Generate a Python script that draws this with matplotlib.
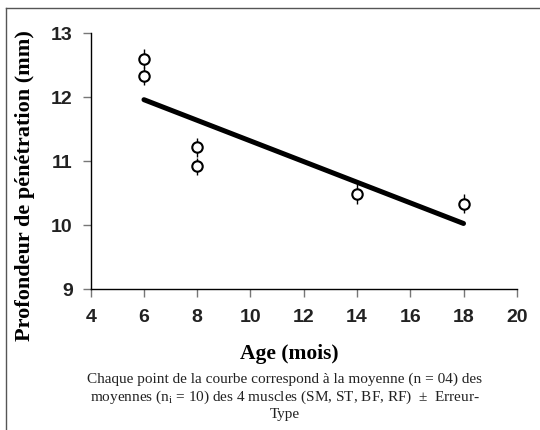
import numpy as np
import matplotlib.pyplot as plt
from matplotlib.lines import Line2D

plt.rcParams['mathtext.fontset'] = 'custom'
plt.rcParams['mathtext.rm'] = 'Liberation Serif'

# mean penetration depth by age, with standard error
age = [6, 6, 8, 8, 14, 18]
depth = [12.6, 12.33, 11.22, 10.92, 10.49, 10.34]
err = [0.15, 0.14, 0.15, 0.13, 0.15, 0.15]

xticks = [4, 6, 8, 10, 12, 14, 16, 18, 20]
yticks = [9, 10, 11, 12, 13]

fig = plt.figure(figsize=(5.4, 4.3), dpi=100)
ax = fig.add_axes([0.168, 0.327, 0.789, 0.596])

# linear trend over the measured range
slope, icpt = np.polyfit(age, depth, 1)
xs = np.array([min(age), max(age)])
ax.plot(xs, slope * xs + icpt, color='black', lw=3.6, solid_capstyle='round', zorder=2)

ax.errorbar(age, depth, yerr=err, fmt='o', ms=7.5, mfc='white', mec='black',
            mew=1.5, ecolor='black', elinewidth=1, capsize=0, zorder=3)

ax.set_xlim(4, 20)
ax.set_ylim(9, 13)
ax.set_xticks(xticks)
ax.set_yticks(yticks)
for s in ['top', 'right']:
    ax.spines[s].set_visible(False)
for s in ['left', 'bottom']:
    ax.spines[s].set_linewidth(1)
ax.tick_params(direction='out', length=6, width=1, color='#777777')
ax.tick_params(axis='x', pad=8)
ax.tick_params(axis='y', pad=7)
for lab in ax.get_xticklabels() + ax.get_yticklabels():
    lab.set_fontfamily('Liberation Sans')
    lab.set_fontweight('bold')
    lab.set_fontsize(14)
    lab.set_color('#222222')

fig.text(25 / 540, 1 - 186 / 430, 'Profondeur de pénétration (mm)', family='Liberation Serif',
         fontweight='bold', fontsize=16, rotation=90, ha='center', va='center')

fig.text(0.535, 0.165, 'Age (mois)', family='Liberation Serif', fontweight='bold',
         fontsize=15.5, ha='center', va='baseline')

caption = ('Chaque point de la courbe correspond à la moyenne (n = 04) des\n'
           'moyennes ($\\mathregular{n_i}$ = 10) des 4 muscles (SM, ST, BF, RF)  ±  Erreur-\n'
           'Type')
fig.text(0.527, 0.077, caption, family='Liberation Serif', fontsize=11, color='#222222',
         ha='center', va='center', linespacing=1.18)

# page border (top and left edges)
fig.add_artist(Line2D([6 / 540, 1], [1 - 8 / 430, 1 - 8 / 430], color='#555555', lw=1,
                      transform=fig.transFigure))
fig.add_artist(Line2D([6 / 540, 6 / 540], [0, 1 - 8 / 430], color='#555555', lw=1,
                      transform=fig.transFigure))

fig.savefig('out.png', dpi=100)
